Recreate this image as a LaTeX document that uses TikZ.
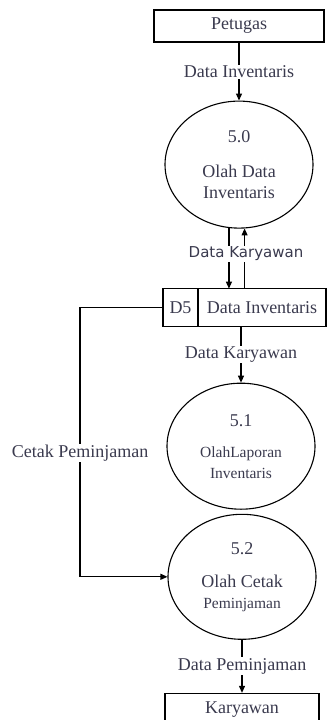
\documentclass[tikz,border=0pt]{standalone}
\usepackage{fontspec}
\setmainfont{Liberation Serif}
\newfontfamily\dfdsans{DejaVu Sans}
\usetikzlibrary{arrows.meta,positioning,shapes.geometric}
\definecolor{dfdtext}{RGB}{58,58,78}
\newcommand{\dfdbig}{\fontsize{18}{21}\selectfont}
\newcommand{\dfdsmall}{\fontsize{15.5}{16}\selectfont}
\tikzset{
  dfd entity/.style={
    rectangle, draw=black, line width=1.1pt,
    minimum width=170pt, minimum height=32pt,
    inner sep=0pt, text=dfdtext, font=\dfdbig
  },
  dfd process/.style={
    ellipse, draw=black, line width=1.1pt,
    minimum width=148pt, minimum height=127pt,
    inner sep=0pt, align=center, text=dfdtext, font=\dfdbig
  },
  dfd store/.style={
    rectangle, draw=black, line width=1.1pt, outer sep=0pt,
    minimum height=38pt, inner sep=0pt, text=dfdtext, font=\dfdbig
  },
  dfd label/.style={fill=white, inner sep=1pt, text=dfdtext, font=\dfdbig},
  dfd flow/.style={-{Triangle[length=7pt,width=6pt]}, line width=1.1pt}
}

\begin{document}
\begin{tikzpicture}[x=1pt, y=1pt]
    \useasboundingbox (0,0) rectangle (327,-720);
    \node[dfd entity] (petugas) at (239,-26) {Petugas};
    \node[dfd process, below=58pt of petugas] (olahdata) {5.0\\[14pt]Olah Data\\Inventaris};
    \node[dfd store, minimum width=128pt, below=60pt of olahdata, xshift=23pt] (store) {Data Inventaris};
    \node[dfd store, minimum width=35pt, left=0pt of store] (storeid) {D5};
    \node[dfd process, minimum height=126pt, below=56pt of store, xshift=-21pt] (laporan)
      {5.1\\[10pt]{\dfdsmall OlahLaporan}\\{\dfdsmall Inventaris}};
    \node[dfd process, minimum height=125pt, below=4pt of laporan, xshift=1pt] (cetak)
      {5.2\\[12pt]Olah Cetak\\{\dfdsmall Peminjaman}};
    \node[dfd entity, minimum width=154pt, below=53pt of cetak] (karyawan) {Karyawan};
    \draw[dfd flow] (petugas) -- node[dfd label] {Data Inventaris} (olahdata);
    \draw[dfd flow] (olahdata.261) -- (olahdata.261 |- store.north);
    \draw[dfd flow] (olahdata.275 |- store.north) -- (olahdata.275);
    \node[dfd label, font=\dfdsans\fontsize{15}{17}\selectfont, below=17pt of olahdata, xshift=7pt] (karyawanflow) {Data Karyawan};
    \draw[dfd flow] (laporan.north |- store.south) -- node[dfd label] {Data Karyawan} (laporan.north);
    \draw[dfd flow] (storeid.west) -- ++(-83pt,0) |- node[dfd label, pos=0.27] {Cetak Peminjaman} (cetak.west);
    \draw[dfd flow] (cetak) -- node[dfd label] {Data Peminjaman} (karyawan);
\end{tikzpicture}
\end{document}
